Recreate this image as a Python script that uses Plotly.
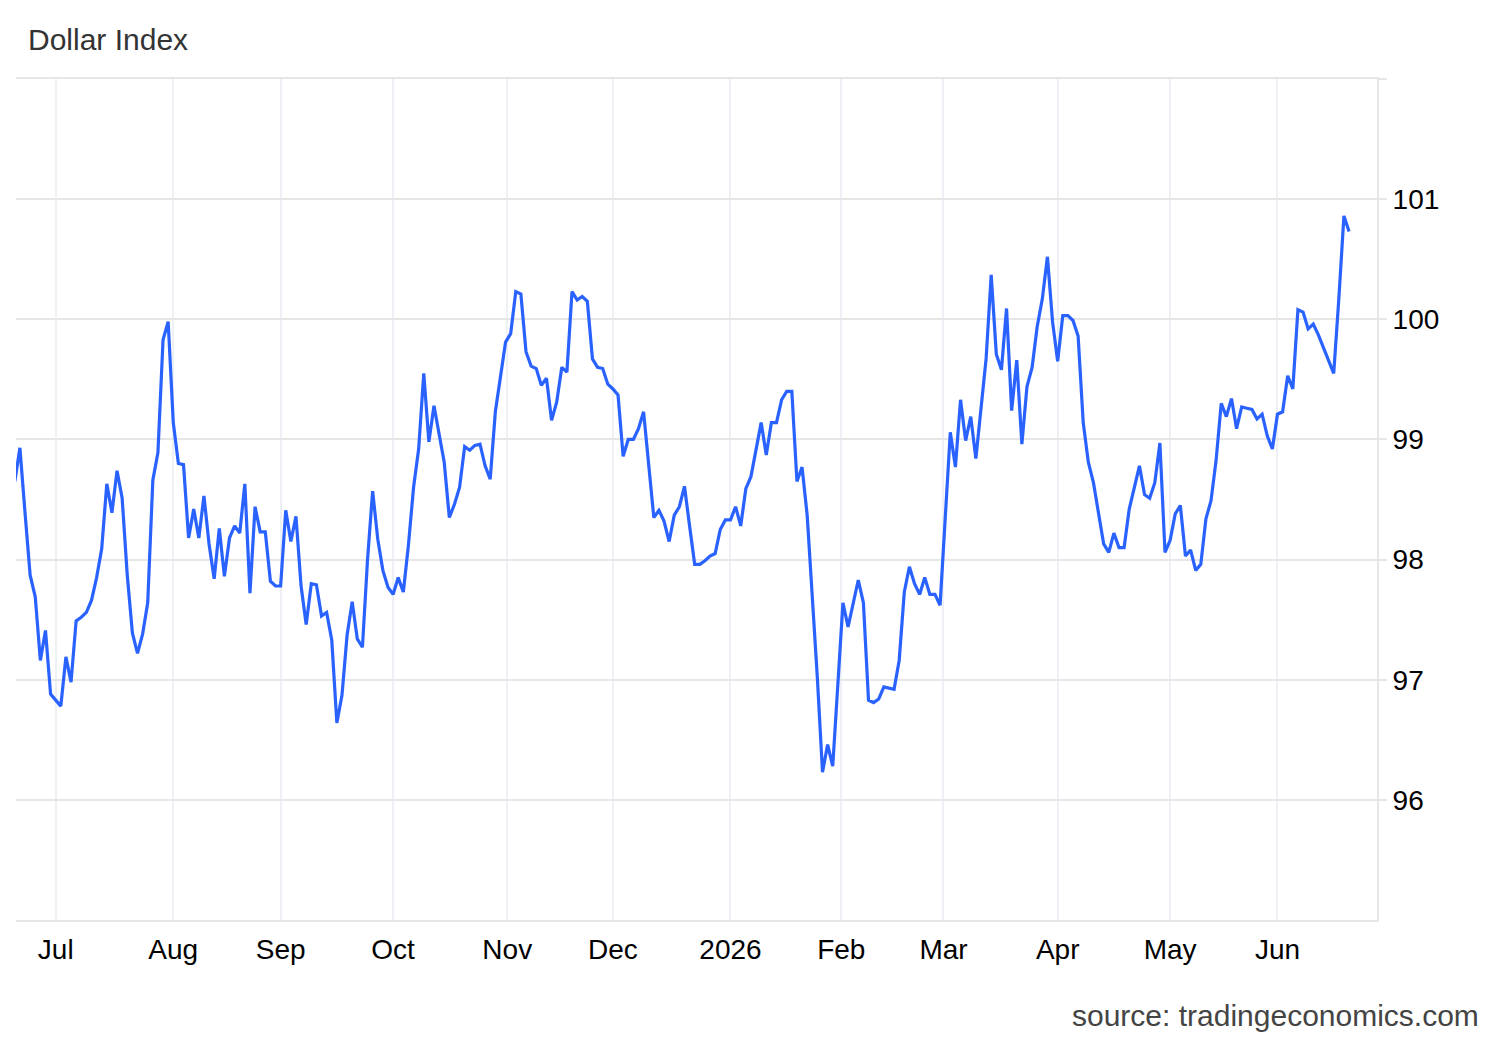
import pandas as pd
import plotly.graph_objects as go

# ---- data (one value per trading day, 2025-06-19 .. 2026-06-19) ----
start_date = "2025-06-19"
end_date = "2026-06-19"
values = [
    98.65, 98.93, 98.39, 97.87, 97.69, 97.16, 97.41, 96.88, 96.83, 96.78,
    97.19, 96.98, 97.49, 97.52, 97.56, 97.66, 97.85, 98.09, 98.63, 98.39,
    98.74, 98.51, 97.87, 97.39, 97.22, 97.38, 97.64, 98.66, 98.89, 99.83,
    99.98, 99.14, 98.80, 98.79, 98.18, 98.42, 98.18, 98.53, 98.13, 97.84,
    98.26, 97.86, 98.18, 98.28, 98.22, 98.63, 97.72, 98.44, 98.23, 98.23,
    97.82, 97.78, 97.78, 98.41, 98.15, 98.36, 97.78, 97.46, 97.80, 97.79,
    97.53, 97.56, 97.33, 96.64, 96.87, 97.37, 97.65, 97.34, 97.27, 98.00,
    98.57, 98.17, 97.91, 97.77, 97.71, 97.85, 97.73, 98.12, 98.60, 98.92,
    99.55, 98.98, 99.28, 99.05, 98.81, 98.35, 98.46, 98.60, 98.94, 98.91,
    98.95, 98.96, 98.78, 98.67, 99.23, 99.52, 99.81, 99.88, 100.23, 100.21,
    99.73, 99.61, 99.59, 99.45, 99.51, 99.16, 99.31, 99.60, 99.56, 100.23,
    100.16, 100.19, 100.15, 99.67, 99.60, 99.59, 99.46, 99.42, 99.37, 98.86,
    99.00, 99.00, 99.09, 99.23, 98.78, 98.35, 98.41, 98.32, 98.15, 98.37,
    98.44, 98.61, 98.28, 97.96, 97.96, 97.99, 98.03, 98.05, 98.25, 98.33,
    98.33, 98.44, 98.28, 98.59, 98.69, 98.91, 99.14, 98.87, 99.14, 99.14,
    99.33, 99.40, 99.40, 98.65, 98.77, 98.37, 97.70, 97.01, 96.23, 96.46,
    96.28, 97.01, 97.64, 97.44, 97.64, 97.83, 97.64, 96.83, 96.81, 96.84,
    96.94, 96.93, 96.92, 97.16, 97.73, 97.94, 97.80, 97.71, 97.85, 97.71,
    97.71, 97.62, 98.37, 99.06, 98.77, 99.33, 98.99, 99.19, 98.84, 99.23,
    99.67, 100.37, 99.71, 99.58, 100.09, 99.24, 99.66, 98.96, 99.44, 99.60,
    99.94, 100.17, 100.52, 99.98, 99.65, 100.03, 100.03, 99.99, 99.86, 99.14,
    98.81, 98.64, 98.37, 98.13, 98.06, 98.22, 98.10, 98.10, 98.42, 98.60,
    98.78, 98.54, 98.51, 98.64, 98.97, 98.06, 98.16, 98.38, 98.45, 98.03,
    98.08, 97.91, 97.96, 98.34, 98.49, 98.83, 99.30, 99.19, 99.34, 99.09,
    99.27, 99.26, 99.25, 99.17, 99.21, 99.03, 98.92, 99.21, 99.23, 99.53,
    99.42, 100.08, 100.06, 99.92, 99.96, 99.87, 99.76, 99.65, 99.55, 100.17,
    100.86, 100.73,
]
month_starts = ["2025-07-01", "2025-08-01", "2025-09-01", "2025-10-01",
                "2025-11-01", "2025-12-01", "2026-01-01", "2026-02-01",
                "2026-03-01", "2026-04-01", "2026-05-01", "2026-06-01"]
month_labels = ["Jul", "Aug", "Sep", "Oct", "Nov", "Dec", "2026", "Feb",
                "Mar", "Apr", "May", "Jun"]
y_ticks = [96, 97, 98, 99, 100, 101, 102]
y_labels = ["96", "97", "98", "99", "100", "101", ""]

dates = pd.bdate_range(start_date, end_date)
assert len(dates) == len(values)


def tick_pos(d):
    # ordinal axis: a weekend date sits between Friday and Monday
    d = pd.Timestamp(d)
    if d.weekday() >= 5:
        fri = d - pd.Timedelta(days=d.weekday() - 4)
        frac = (d - fri) / pd.Timedelta(days=3)
        d = fri + pd.Timedelta(days=float(frac))
    return d.strftime("%Y-%m-%d %H:%M:%S")


FONT = "Liberation Sans, Arial, sans-serif"

fig = go.Figure()
fig.add_trace(go.Scatter(
    x=dates, y=values, mode="lines",
    line=dict(color="#2962ff", width=3.2),
    hoverinfo="x+y", showlegend=False,
))

fig.update_layout(
    width=1500, height=1040,
    margin=dict(l=16, r=123, t=79, b=120),
    paper_bgcolor="white", plot_bgcolor="white",
    font=dict(family=FONT, size=28, color="#000000"),
    title=dict(text="Dollar Index", x=28 / 1500, xref="container", xanchor="left",
               y=1 - 39 / 1040, yref="container", yanchor="middle",
               font=dict(family=FONT, size=30, color="#333333")),
    xaxis=dict(
        type="date",
        range=["2025-06-19 05:38", "2026-06-26 11:15"],
        rangebreaks=[dict(bounds=["sat", "mon"])],
        tickmode="array",
        tickvals=[tick_pos(d) for d in month_starts],
        ticktext=month_labels,
        showgrid=True, gridcolor="#edf0f5", gridwidth=1.5,
        showline=True, mirror=True, linecolor="#e6e6e6", linewidth=2,
        ticks="", zeroline=False, ticklabelstandoff=3,
        tickfont=dict(family=FONT, size=28, color="#000000"),
    ),
    yaxis=dict(
        side="right",
        range=[95, 102],
        tickmode="array", tickvals=y_ticks, ticktext=y_labels,
        showgrid=True, gridcolor="#e6e6e6", gridwidth=1.5,
        showline=True, linecolor="#e6e6e6", linewidth=2,
        ticks="outside", ticklen=8, tickwidth=2, tickcolor="#e6e6e6",
        zeroline=False,
        tickfont=dict(family=FONT, size=28, color="#000000"),
    ),
    annotations=[dict(
        text="source: tradingeconomics.com",
        xref="paper", yref="paper",
        x=(1481 - 16) / 1361, y=(920 - 1016) / 841,
        xanchor="right", yanchor="middle", showarrow=False,
        font=dict(family=FONT, size=30, color="#444444"),
    )],
)

fig.write_html("out.html", config={"displayModeBar": False},
               post_script="document.body.style.margin='0';")
